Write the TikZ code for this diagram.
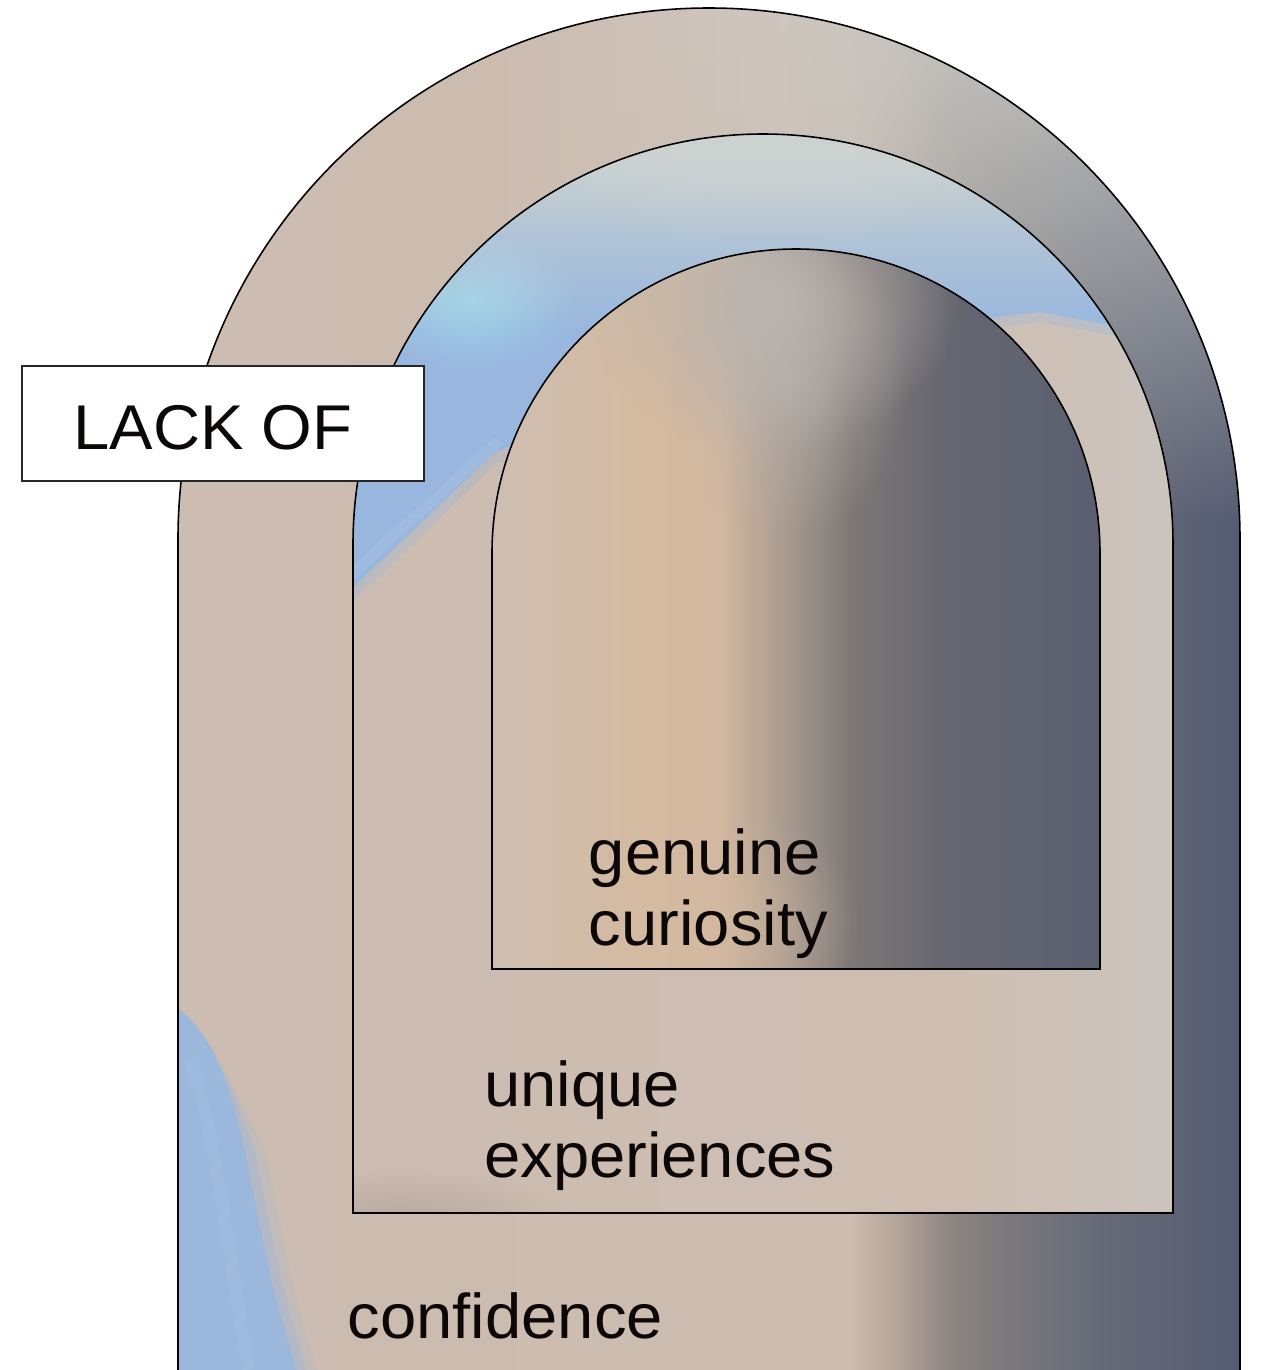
\documentclass[tikz,border=0pt]{standalone}
\usepackage{fontspec}
\setmainfont{Liberation Sans}
\newfontfamily\lowfont[FakeStretch=1.03]{Liberation Sans}
\usetikzlibrary{fadings}
\definecolor{beige}{RGB}{204,188,177}
\definecolor{beigeL}{RGB}{206,190,178}
\definecolor{o2}{RGB}{205,188,175}
\definecolor{o3}{RGB}{178,163,152}
\definecolor{o4}{RGB}{142,134,130}
\definecolor{o5}{RGB}{125,122,125}
\definecolor{o6}{RGB}{102,106,120}
\definecolor{o7}{RGB}{86,93,113}
\definecolor{i2}{RGB}{212,186,160}
\definecolor{i3}{RGB}{210,184,160}
\definecolor{i4}{RGB}{165,152,142}
\definecolor{i5}{RGB}{125,120,118}
\definecolor{i6}{RGB}{102,102,112}
\definecolor{i7}{RGB}{90,95,112}
\definecolor{skyblue}{RGB}{150,183,226}
\definecolor{skyL}{RGB}{172,198,230}
\definecolor{cyanish}{RGB}{160,212,234}
\definecolor{topgray}{RGB}{205,211,208}
\definecolor{lgray}{RGB}{197,197,194}
\definecolor{tgray}{RGB}{206,198,190}
\definecolor{igray}{RGB}{186,181,177}
\definecolor{midR}{RGB}{203,196,190}
\definecolor{dkbr}{RGB}{165,150,140}
\definecolor{ink}{RGB}{12,8,8}
\pgfdeclarehorizontalshading{outerH}{100bp}{color(0bp)=(beige); color(25bp)=(beige); color(56.6bp)=(o2); color(59bp)=(o3); color(61.3bp)=(o4); color(63.7bp)=(o5); color(68.4bp)=(o6); color(75bp)=(o7); color(100bp)=(o7)}
\pgfdeclarehorizontalshading{outerTop}{100bp}{color(0bp)=(beige); color(25bp)=(beige); color(40bp)=(beige); color(52bp)=(tgray); color(62bp)=(lgray); color(75bp)=(lgray); color(100bp)=(lgray)}
\pgfdeclarehorizontalshading{midH}{100bp}{color(0bp)=(beige); color(25bp)=(beige); color(62bp)=(beigeL); color(75bp)=(midR); color(100bp)=(midR)}
\pgfdeclarehorizontalshading{innerH}{100bp}{color(0bp)=(beigeL); color(25bp)=(beigeL); color(38bp)=(i2); color(43.75bp)=(i3); color(49.5bp)=(i4); color(54.5bp)=(i5); color(62.5bp)=(i6); color(75bp)=(i7); color(100bp)=(i7)}
\tikzfading[name=softblob, inner color=transparent!0, outer color=transparent!100]
\tikzfading[name=fadedown, top color=transparent!0, middle color=transparent!30, bottom color=transparent!100]
\begin{document}
\begin{tikzpicture}[x=0.02cm,y=0.02cm,
  archline/.style={draw=black, line width=0.9pt},
  lbl/.style={text=ink, font=\lowfont\fontsize{36}{40}\selectfont, inner sep=0pt, align=left},
  blob/.style={path fading=softblob}]
\useasboundingbox (0,0) rectangle (1262,-1370);
\clip (0,0) rectangle (1262,-1370);
% ---------- outer arch ----------
\begin{scope}
\clip (178,-1380) -- (178,-539) arc[start angle=180,end angle=0,radius=531] -- (1240,-1380) -- cycle;
\shade[shading=outerH] (178,-1380) rectangle (1240,-8);
\shade[shading=outerTop, path fading=fadedown] (178,0) rectangle (1240,-520);
\foreach \dx/\op in {20/0.2, 10/0.3, 0/0.8}{
  \fill[skyblue, opacity=\op] (170,-1005) .. controls (205,-1020) and (230,-1080) .. ([xshift=\dx*0.02cm]245,-1150)
     .. controls ([xshift=\dx*0.02cm]258,-1215) and ([xshift=\dx*0.02cm]270,-1290) .. ([xshift=\dx*0.02cm]300,-1380) -- (170,-1380) -- cycle;
}
\draw[skyL, line width=7pt, opacity=.25] (190,-1060) .. controls (215,-1130) and (225,-1230) .. (250,-1380);
\end{scope}
\draw[archline] (178,-1380) -- (178,-539) arc[start angle=180,end angle=0,radius=531] -- (1240,-1380);
% ---------- middle arch ----------
\begin{scope}
\clip (353,-1213) -- (353,-544) arc[start angle=180,end angle=0,radius=410] -- (1173,-1213) -- cycle;
\shade[shading=midH] (353,-1213) rectangle (1173,-134);
\fill[skyblue, opacity=.3] (340,-614) -- (495,-464) -- (800,-352) -- (1040,-322) -- (1180,-348) -- (1180,-130) -- (340,-130) -- cycle;
\fill[skyblue, opacity=.9] (340,-600) -- (495,-452) -- (800,-340) -- (1040,-312) -- (1180,-338) -- (1180,-130) -- (340,-130) -- cycle;
\draw[skyL, line width=6pt, opacity=.35] (345,-580) -- (500,-440);
\fill[cyanish, blob] (470,-300) ellipse [x radius=110, y radius=70];
\fill[topgray, path fading=fadedown] (340,-130) rectangle (1180,-330);
\fill[topgray, blob] (770,-150) ellipse [x radius=380, y radius=90];
\fill[dkbr, blob, opacity=.45] (400,-1213) ellipse [x radius=170, y radius=45];
\end{scope}
\draw[archline] (353,-1213) -- (353,-544) arc[start angle=180,end angle=0,radius=410] -- (1173,-1213) -- cycle;
% ---------- inner arch ----------
\begin{scope}
\clip (492,-969) -- (492,-553) arc[start angle=180,end angle=0,radius=304] -- (1100,-969) -- cycle;
\shade[shading=innerH] (492,-969) rectangle (1100,-249);
\fill[igray, blob] (770,-300) ellipse [x radius=190, y radius=150];
\fill[igray, blob, opacity=.6] (790,-380) ellipse [x radius=120, y radius=160];
\fill[i2, blob, opacity=.55] (730,-920) ellipse [x radius=130, y radius=110];
\end{scope}
\draw[archline] (492,-969) -- (492,-553) arc[start angle=180,end angle=0,radius=304] -- (1100,-969) -- cycle;
% ---------- label box and texts ----------
\node[draw=black!85, fill=white, line width=0.9pt, minimum width=8.04cm, minimum height=2.3cm, inner sep=0pt] (lackbox) at (223,-423.5) {};
\node[lbl, anchor=base west] (lackof) at (73,-449) {LACK OF};
\node[lbl, anchor=base west] (genuine) at (588.5,-945) {genuine\\curiosity};
\node[lbl, anchor=base west] (unique) at (484,-1177) {unique\\experiences};
\node[lbl, anchor=base west] (confidence) at (347.5,-1338) {confidence};
\end{tikzpicture}
\end{document}
